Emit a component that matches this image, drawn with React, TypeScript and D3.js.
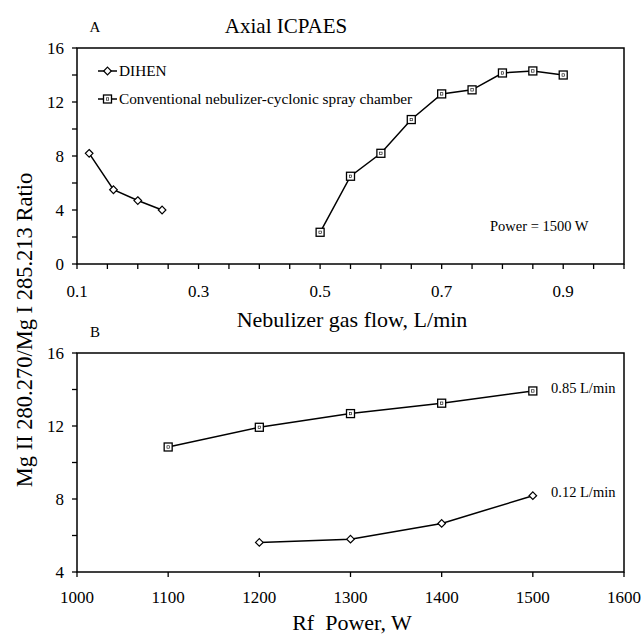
import React from "react";
import * as d3 from "d3";

const flowDihen = [0.12, 0.16, 0.2, 0.24];
const ratioDihen = [8.2, 5.5, 4.7, 4.0];
const flowConv = [0.5, 0.55, 0.6, 0.65, 0.7, 0.75, 0.8, 0.85, 0.9];
const ratioConv = [2.35, 6.5, 8.2, 10.7, 12.6, 12.9, 14.15, 14.3, 14.0];

const powerHigh = [1100, 1200, 1300, 1400, 1500];
const ratioHigh = [10.85, 11.93, 12.68, 13.25, 13.92];
const powerLow = [1200, 1300, 1400, 1500];
const ratioLow = [5.62, 5.8, 6.66, 8.18];

const xTicksA = d3.range(0.1, 1.0001, 0.05).map((v) => +v.toFixed(2));
const xLabelsA = [0.1, 0.3, 0.5, 0.7, 0.9];
const yTicksA = [0, 2, 4, 6, 8, 10, 12, 14, 16];
const yLabelsA = [0, 4, 8, 12, 16];
const xTicksB = [1000, 1100, 1200, 1300, 1400, 1500, 1600];
const yTicksB = [4, 6, 8, 10, 12, 14, 16];
const yLabelsB = [4, 8, 12, 16];

const FONT = "'Liberation Serif', 'Times New Roman', serif";

const Diamond = ({ x, y }: { x: number; y: number }) => (
  <path
    d={`M${x},${y - 3.8}L${x + 3.8},${y}L${x},${y + 3.8}L${x - 3.8},${y}Z`}
    fill="white"
    stroke="black"
    strokeWidth={1.2}
  />
);
const Square = ({ x, y }: { x: number; y: number }) => (
  <g>
    <rect x={x - 4} y={y - 4} width={8} height={8} fill="white" stroke="black" strokeWidth={1.3} />
    <rect x={x - 1.2} y={y - 1.2} width={2.4} height={2.4} fill="none" stroke="black" strokeWidth={0.6} />
  </g>
);

export default function App() {
  const L = 77, R = 624;
  const xA = d3.scaleLinear().domain([0.1, 1.0]).range([L, R]);
  const yA = d3.scaleLinear().domain([0, 16]).range([264, 48]);
  const xB = d3.scaleLinear().domain([1000, 1600]).range([L, R]);
  const yB = d3.scaleLinear().domain([4, 16]).range([572, 353]);

  const lineA = (xs: number[], ys: number[]) =>
    d3.line<number>().x((_, i) => xA(xs[i])).y((d) => yA(d))(ys) as string;
  const lineB = (xs: number[], ys: number[]) =>
    d3.line<number>().x((_, i) => xB(xs[i])).y((d) => yB(d))(ys) as string;

  const tick = 5;
  return (
    <svg
      width={644}
      height={635}
      style={{ position: "absolute", left: 0, top: 0, background: "white", fontFamily: FONT }}
      fontFamily={FONT}
    >
      <rect width={644} height={635} fill="white" />
      {/* Panel A */}
      <text x={95} y={32} fontSize={15} textAnchor="middle">A</text>
      <text x={286} y={33} fontSize={21} textAnchor="middle">Axial ICPAES</text>
      <rect x={L} y={48} width={R - L} height={216} fill="none" stroke="black" strokeWidth={1.5} />
      {xTicksA.map((t) => (
        <line key={t} x1={xA(t)} x2={xA(t)} y1={264} y2={264 + tick} stroke="black" strokeWidth={1.3} />
      ))}
      {xLabelsA.map((t) => (
        <text key={t} x={xA(t)} y={297} fontSize={17} textAnchor="middle">{t.toFixed(1)}</text>
      ))}
      {yTicksA.map((t) => (
        <line key={t} x1={L - tick} x2={L} y1={yA(t)} y2={yA(t)} stroke="black" strokeWidth={1.3} />
      ))}
      {yLabelsA.map((t) => (
        <text key={t} x={L - 13} y={yA(t) + 6} fontSize={17} textAnchor="end">{t}</text>
      ))}
      <path d={lineA(flowDihen, ratioDihen)} fill="none" stroke="black" strokeWidth={1.5} />
      <path d={lineA(flowConv, ratioConv)} fill="none" stroke="black" strokeWidth={1.5} />
      {flowDihen.map((f, i) => <Diamond key={f} x={xA(f)} y={yA(ratioDihen[i])} />)}
      {flowConv.map((f, i) => <Square key={f} x={xA(f)} y={yA(ratioConv[i])} />)}
      {/* legend */}
      <line x1={98} x2={117} y1={71} y2={71} stroke="black" strokeWidth={1.5} />
      <Diamond x={107.5} y={71} />
      <text x={119} y={76} fontSize={15.3}>DIHEN</text>
      <line x1={98} x2={117} y1={99} y2={99} stroke="black" strokeWidth={1.5} />
      <Square x={107.5} y={99} />
      <text x={119} y={104} fontSize={15.3}>Conventional nebulizer-cyclonic spray chamber</text>
      <text x={490} y={231} fontSize={14.5}>Power = 1500 W</text>
      <text x={352} y={327} fontSize={22} textAnchor="middle">Nebulizer gas flow, L/min</text>

      {/* Panel B */}
      <text x={95} y={337} fontSize={15} textAnchor="middle">B</text>
      <rect x={L} y={353} width={R - L} height={219} fill="none" stroke="black" strokeWidth={1.5} />
      {xTicksB.map((t) => (
        <g key={t}>
          <line x1={xB(t)} x2={xB(t)} y1={572} y2={572 + tick} stroke="black" strokeWidth={1.3} />
          <text x={xB(t)} y={603} fontSize={17} textAnchor="middle">{t}</text>
        </g>
      ))}
      {yTicksB.map((t) => (
        <line key={t} x1={L - tick} x2={L} y1={yB(t)} y2={yB(t)} stroke="black" strokeWidth={1.3} />
      ))}
      {yLabelsB.map((t) => (
        <text key={t} x={L - 13} y={yB(t) + 6} fontSize={17} textAnchor="end">{t}</text>
      ))}
      <path d={lineB(powerHigh, ratioHigh)} fill="none" stroke="black" strokeWidth={1.5} />
      <path d={lineB(powerLow, ratioLow)} fill="none" stroke="black" strokeWidth={1.5} />
      {powerHigh.map((p, i) => <Square key={p} x={xB(p)} y={yB(ratioHigh[i])} />)}
      {powerLow.map((p, i) => <Diamond key={p} x={xB(p)} y={yB(ratioLow[i])} />)}
      <text x={551} y={393} fontSize={14.5}>0.85 L/min</text>
      <text x={551} y={497} fontSize={14.5}>0.12 L/min</text>
      <text x={352} y={630} fontSize={22} textAnchor="middle" style={{ whiteSpace: "pre" }}>
        {"Rf  Power, W"}
      </text>

      <text transform="translate(32,330) rotate(-90)" fontSize={22.5} textAnchor="middle">
        Mg II 280.270/Mg I 285.213 Ratio
      </text>
    </svg>
  );
}
